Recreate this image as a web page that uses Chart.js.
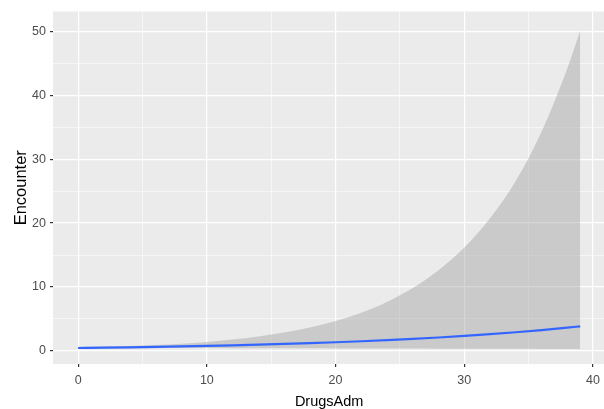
<!DOCTYPE html>
<html>
<head>
<meta charset="utf-8">
<script src="https://cdn.jsdelivr.net/npm/chart.js@4/dist/chart.umd.min.js"></script>
<style>
  html, body { margin: 0; padding: 0; background: #ffffff; overflow: hidden; }
  #wrap { width: 606px; height: 409px; }
</style>
</head>
<body>
<div id="wrap"><canvas id="c" width="606" height="409"></canvas></div>
<script>
// Fitted count model: DrugsAdm vs Encounter, with 95% confidence band
const drugsAdm  = [0, 2, 4, 6, 8, 10, 12, 14, 16, 18, 20, 22, 24, 26, 28, 30, 32, 34, 36, 38, 39];
const fitted    = [0.45, 0.502, 0.561, 0.626, 0.699, 0.780, 0.871, 0.972, 1.085, 1.211, 1.352,
                   1.509, 1.685, 1.880, 2.099, 2.343, 2.616, 2.920, 3.259, 3.638, 3.844];
const upperBand = [0.659, 0.694, 0.776, 0.916, 1.123, 1.403, 1.770, 2.247, 2.862, 3.656, 4.677,
                   5.986, 7.665, 9.829, 12.60, 16.16, 20.75, 26.62, 34.3, 44.2, 50.1];
const lowerBand = [0.307, 0.363, 0.406, 0.428, 0.435, 0.434, 0.429, 0.420, 0.411, 0.401, 0.391,
                   0.380, 0.370, 0.360, 0.350, 0.340, 0.330, 0.320, 0.311, 0.302, 0.297];
const xTicks = [0, 10, 20, 30, 40];
const yTicks = [0, 10, 20, 30, 40, 50];

const pts = arr => drugsAdm.map((x, i) => ({ x: x, y: arr[i] }));

// grey panel behind the plot area
const panelBg = {
  id: 'panelBg',
  beforeDraw(chart) {
    const a = chart.chartArea, ctx = chart.ctx;
    ctx.save();
    ctx.fillStyle = '#EBEBEB';
    ctx.fillRect(a.left, a.top, a.right - a.left, a.bottom - a.top);
    ctx.restore();
  }
};

const isMajor = (v, list) => list.includes(v);

function gridFor(list) {
  return {
    color: '#FFFFFF',
    lineWidth: ctx => (ctx.tick && isMajor(ctx.tick.value, list)) ? 1.2 : 0.55,
    tickColor: ctx => (ctx.tick && isMajor(ctx.tick.value, list)) ? '#333333' : 'rgba(0,0,0,0)',
    tickLength: 3,
    drawTicks: true,
    drawOnChartArea: true
  };
}

const tickFont = { family: 'Liberation Sans, Arial, sans-serif', size: 12.5 };

new Chart(document.getElementById('c'), {
  type: 'line',
  data: {
    datasets: [
      {
        label: 'fit',
        data: pts(fitted),
        borderColor: '#3366FF',
        borderWidth: 2.2,
        pointRadius: 0,
        fill: false,
        cubicInterpolationMode: 'monotone',
        order: 0
      },
      {
        label: 'upper',
        data: pts(upperBand),
        borderWidth: 0,
        borderColor: 'rgba(0,0,0,0)',
        backgroundColor: 'rgba(153,153,153,0.4)',
        pointRadius: 0,
        fill: '+1',
        cubicInterpolationMode: 'monotone',
        order: 1
      },
      {
        label: 'lower',
        data: pts(lowerBand),
        borderWidth: 0,
        borderColor: 'rgba(0,0,0,0)',
        pointRadius: 0,
        fill: false,
        cubicInterpolationMode: 'monotone',
        order: 2
      }
    ]
  },
  plugins: [panelBg],
  options: {
    responsive: false,
    animation: false,
    layout: { padding: { top: 10, right: 0, bottom: 0, left: 0 } },
    plugins: { legend: { display: false }, tooltip: { enabled: false } },
    scales: {
      x: {
        type: 'linear',
        min: -1.95,
        max: 40.95,
        afterFit: s => { s.height = 45; },
        border: { display: false },
        grid: gridFor(xTicks),
        ticks: {
          stepSize: 5,
          includeBounds: false,
          autoSkip: false,
          maxRotation: 0,
          padding: 6,
          color: '#4D4D4D',
          font: tickFont,
          callback: v => isMajor(v, xTicks) ? String(v) : ''
        },
        title: {
          display: true,
          text: 'DrugsAdm',
          color: '#000000',
          font: { family: 'Liberation Sans, Arial, sans-serif', size: 14.5, lineHeight: 1 },
          padding: { top: 0, bottom: 0 }
        }
      },
      y: {
        type: 'linear',
        min: -2.05,
        max: 53.1,
        afterFit: s => { s.width = 53; },
        border: { display: false },
        grid: gridFor(yTicks),
        ticks: {
          stepSize: 5,
          includeBounds: false,
          autoSkip: false,
          padding: 4,
          color: '#4D4D4D',
          font: tickFont,
          callback: v => isMajor(v, yTicks) ? String(v) : ''
        },
        title: {
          display: true,
          text: 'Encounter',
          color: '#000000',
          font: { family: 'Liberation Sans, Arial, sans-serif', size: 16.5, lineHeight: 1 },
          padding: { top: 13, bottom: 0 }
        }
      }
    }
  }
});
</script>
</body>
</html>
